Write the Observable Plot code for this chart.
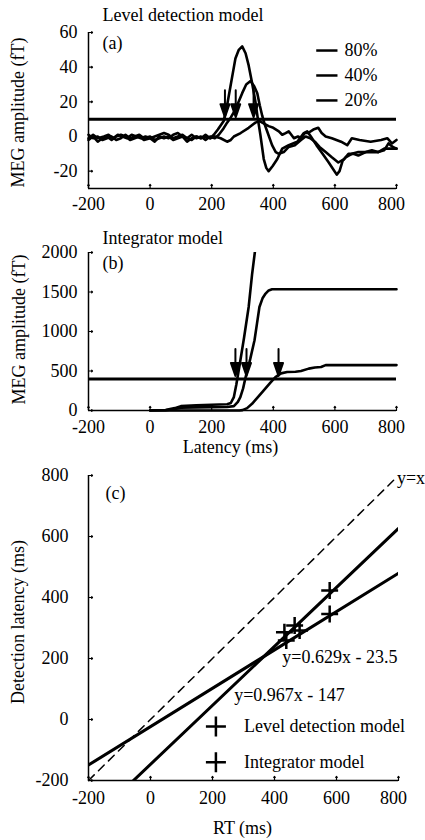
<!DOCTYPE html>
<html>
<head>
<meta charset="utf-8">
<script src="https://cdn.jsdelivr.net/npm/d3@7"></script>
<script src="https://cdn.jsdelivr.net/npm/@observablehq/plot@0.6"></script>
<style>
  html, body { margin: 0; padding: 0; background: #fff; }
  #wrap { width: 425px; height: 840px; overflow: hidden; background: #fff; }
  #wrap svg { display: block; font-family: "Liberation Serif", "Times New Roman", serif !important; }
  #wrap svg text { font-family: "Liberation Serif", "Times New Roman", serif !important; }
</style>
</head>
<body>
<div id="wrap"></div>
<script>
// ---------- data ----------
const xTicks = [-200, 0, 200, 400, 600, 800];
const yTicksA = [-20, 0, 20, 40, 60];
const yTicksB = [0, 500, 1000, 1500, 2000];
const yTicksC = [-200, 0, 200, 400, 600, 800];
const seriesLabels = ["80%", "40%", "20%"];
const thresholdA = 10;
const thresholdB = 400;
const arrowsA = [243, 278, 336];
const arrowsB = [277, 313, 417];

// (a) level detection model waveforms [latency ms, amplitude fT]
const a80 = [[-200,-1],[-185,1],[-170,-1],[-150,0],[-135,1],[-120,-1],[-105,1],[-90,0],[-75,-1],[-60,1],[-45,0],[-30,-1],[-15,0],[0,-1],[15,0],[30,1],[45,2],[60,1],[75,-1],[90,0],[105,1],[120,-1],[135,-2],[150,0],[165,-1],[180,1],[195,-1],[207,1],[220,4],[239,9],[250,18],[261,29],[270,38],[277,45],[288,50],[299,52],[310,48],[320,41],[331,31],[342,20],[350,10],[358,1],[369,-13],[377,-18],[385,-20],[398,-17],[413,-13],[429,-7],[450,-5],[478,-3],[499,2],[510,3],[522,0],[540,-5],[560,-10],[580,-15],[595,-19],[606,-22],[615,-20],[625,-14],[635,-12],[655,-10],[676,-9],[700,-9],[720,-8],[740,-9],[760,-8],[774,-4],[788,-6],[800,-7]];
const a40 = [[-200,1],[-185,-1],[-170,0],[-155,-2],[-140,-1],[-125,0],[-110,-2],[-95,-1],[-80,1],[-65,-1],[-50,0],[-35,1],[-20,-1],[0,0],[15,-2],[30,-1],[45,0],[60,-1],[75,1],[90,2],[105,0],[120,-1],[135,1],[150,-1],[165,0],[180,-2],[195,0],[210,-1],[223,1],[236,4],[250,8],[262,11],[272,14],[285,19],[299,25],[312,30],[326,32],[338,29],[348,25],[356,18],[364,12],[372,7],[380,3],[396,-5],[408,-9],[418,-10],[434,-9],[450,-6],[470,-5],[490,-2],[505,0],[520,-1],[535,-3],[550,-6],[570,-9],[590,-12],[611,-15],[630,-13],[644,-10],[660,-10],[676,-11],[700,-9],[720,-9],[741,-9],[760,-7],[780,-7],[800,-7]];
const a20 = [[-200,-2],[-185,0],[-170,-3],[-155,-1],[-140,0],[-125,-2],[-110,0],[-95,1],[-80,0],[-65,-2],[-50,-1],[-35,0],[-20,-2],[0,-1],[15,-3],[30,0],[45,-1],[60,0],[75,-2],[90,-1],[105,0],[120,-3],[135,-1],[150,0],[165,-1],[180,0],[195,-1],[210,0],[229,-1],[250,-3],[262,-2],[272,0],[294,2],[320,5],[342,8],[355,9],[364,8],[385,6],[400,5],[418,3],[429,1],[440,2],[450,3],[467,-1],[480,0],[491,-1],[502,2],[513,2],[530,4],[546,5],[557,2],[570,0],[590,-1],[620,-3],[640,-5],[655,-1],[680,-2],[716,-3],[750,-2],[770,-1],[785,-4],[800,-2]];

// (b) integrator model waveforms
const b80 = [[0,0],[50,5],[80,30],[100,55],[150,65],[200,72],[250,80],[262,95],[272,170],[280,330],[290,560],[305,920],[320,1310],[331,1720],[340,2000],[350,2350]];
const b40 = [[0,0],[50,3],[80,20],[100,35],[150,40],[200,42],[250,45],[272,55],[285,110],[293,170],[302,280],[310,420],[325,650],[339,890],[347,1100],[355,1310],[365,1420],[375,1480],[385,1520],[396,1535],[800,1535]];
const b20 = [[0,0],[290,0],[300,5],[315,30],[331,85],[350,170],[369,254],[390,350],[407,423],[425,470],[445,487],[472,490],[490,500],[515,530],[535,545],[555,550],[570,575],[800,575]];

// (c) detection latency vs RT
const slopes = [0.629, 0.967];
const intercepts = [-23.5, -147];
const eqLabels = ["y=0.629x - 23.5", "y=0.967x - 147"];
const levelPts = [[438,259],[481,292],[578,346]];
const integPts = [[432,286],[465,308],[578,423]];
const legendC = ["Level detection model", "Integrator model"];
const identityLabel = "y=x";

// ---------- helpers ----------
const FONT = "'Liberation Serif', 'Times New Roman', serif";
const baseStyle = "font-family: 'Liberation Serif', 'Times New Roman', serif; font-size: 18px; color: black; background: white;";
const fmt = d => String(d);
const T = {fontSize: 18, fontFamily: FONT};
const arrowShape = {
  draw(ctx, l) {
    ctx.moveTo(0, 0); ctx.lineTo(0, -l + 10);
    ctx.moveTo(-4.5, -l + 13); ctx.lineTo(0, -l); ctx.lineTo(4.5, -l + 13); ctx.closePath();
  }
};
function frameMarks(yTicks, ymin, xPad, yPad) {
  const last = xTicks[xTicks.length - 1];
  return [
    Plot.ruleY([ymin], {strokeWidth: 1.5}),
    Plot.ruleX([-200], {strokeWidth: 1.5}),
    Plot.vector(xTicks, {x: d => d, y: ymin, length: 4, rotate: 0, anchor: "start", strokeWidth: 1.2}),
    Plot.vector(yTicks, {x: -200, y: d => d, length: 4, rotate: 90, anchor: "start", strokeWidth: 1.2}),
    Plot.axisX({ticks: xTicks.slice(0, -1), tickSize: 0, tickPadding: xPad, tickFormat: fmt, label: null, ...T}),
    Plot.axisX({ticks: [last], tickSize: 0, tickPadding: xPad, tickFormat: fmt, label: null, dx: -5, ...T}),
    Plot.axisY({ticks: yTicks, tickSize: 0, tickPadding: yPad, tickFormat: fmt, label: null, ...T})
  ];
}
const X = d => d[0], Y = d => d[1];
const yLabel = (text, dx, dy) => Plot.text([text], {frameAnchor: "left", rotate: -90, dx, dy, textAnchor: "middle", lineAnchor: "middle", ...T});
const cornerText = (text, dx, dy) => Plot.text([text], {frameAnchor: "top-left", dx, dy, textAnchor: "start", lineAnchor: "middle", ...T});

// ---------- (a) ----------
const plotA = Plot.plot({
  width: 425, height: 213,
  marginLeft: 88, marginRight: 29, marginTop: 32, marginBottom: 25,
  x: {domain: [-200, 800]},
  y: {domain: [-30, 60]},
  style: baseStyle,
  marks: [
    ...frameMarks(yTicksA, -30, 9, 11),
    Plot.ruleY([thresholdA], {strokeWidth: 3}),
    Plot.line(a20, {x: X, y: Y, strokeWidth: 2.6}),
    Plot.line(a40, {x: X, y: Y, strokeWidth: 2.6}),
    Plot.line(a80, {x: X, y: Y, strokeWidth: 2.6}),
    Plot.vector(arrowsA, {x: d => d, y: thresholdA, dy: -2, length: 27, rotate: 180, anchor: "end", shape: arrowShape, fill: "black", stroke: "black", strokeWidth: 2}),
    Plot.ruleY(seriesLabels, {y: (d, i) => 49.6 - i * 14.4, x1: 541, x2: 610, strokeWidth: 2.5}),
    Plot.text(seriesLabels, {x: 631, y: (d, i) => 49.6 - i * 14.4, textAnchor: "start", ...T}),
    cornerText("Level detection model", 14, -17),
    cornerText("(a)", 14, 11),
    yLabel("MEG amplitude (fT)", -70, 2)
  ]
});

// ---------- (b) ----------
const plotB = Plot.plot({
  width: 425, height: 244,
  marginLeft: 88, marginRight: 29, marginTop: 39, marginBottom: 47,
  x: {domain: [-200, 800]},
  y: {domain: [0, 2000]},
  style: baseStyle,
  marks: [
    ...frameMarks(yTicksB, 0, 10, 11),
    Plot.ruleY([thresholdB], {strokeWidth: 3}),
    Plot.line(b20, {x: X, y: Y, strokeWidth: 2.6}),
    Plot.line(b40, {x: X, y: Y, strokeWidth: 2.6}),
    Plot.line(b80, {x: X, y: Y, strokeWidth: 2.6, clip: true}),
    Plot.vector(arrowsB, {x: d => d, y: thresholdB, dy: -3, length: 27, rotate: 180, anchor: "end", shape: arrowShape, fill: "black", stroke: "black", strokeWidth: 2}),
    cornerText("Integrator model", 14, -14),
    cornerText("(b)", 14, 11),
    yLabel("MEG amplitude (fT)", -69, -2),
    Plot.text(["Latency (ms)"], {frameAnchor: "bottom", dx: -12, dy: 37, textAnchor: "middle", lineAnchor: "middle", ...T})
  ]
});

// ---------- (c) ----------
const fitLines = slopes.map((m, i) => [-200, 800].map(x => ({x, y: m * x + intercepts[i]})));
const plotC = Plot.plot({
  width: 425, height: 383,
  marginLeft: 88, marginRight: 27, marginTop: 18, marginBottom: 60,
  x: {domain: [-200, 800]},
  y: {domain: [-200, 800]},
  style: baseStyle,
  marks: [
    ...frameMarks(yTicksC, -200, 11, 20),
    Plot.line([[-200, -200], [785, 785]], {x: X, y: Y, strokeWidth: 1.5, strokeDasharray: "8,6"}),
    ...fitLines.map(pts => Plot.line(pts, {x: "x", y: "y", strokeWidth: 3, clip: true})),
    Plot.dot(levelPts, {x: X, y: Y, symbol: "plus", r: 5.5, stroke: "black", strokeWidth: 2.5}),
    Plot.dot(integPts, {x: X, y: Y, symbol: "plus", r: 5.5, stroke: "black", strokeWidth: 2.5}),
    Plot.text([eqLabels[0]], {x: 425, y: 204, textAnchor: "start", ...T}),
    Plot.text([eqLabels[1]], {x: 270, y: 79, textAnchor: "start", ...T}),
    Plot.text([identityLabel], {x: 795, y: 790, textAnchor: "start", ...T}),
    Plot.dot(legendC, {x: 211, y: (d, i) => -23 - i * 117, symbol: "plus", r: 6.5, stroke: "black", strokeWidth: 2.5}),
    Plot.text(legendC, {x: 302, y: (d, i) => -23 - i * 117, textAnchor: "start", ...T}),
    cornerText("(c)", 17, 18),
    yLabel("Detection latency (ms)", -70, -6),
    Plot.text(["RT (ms)"], {frameAnchor: "bottom", dx: -1, dy: 48, textAnchor: "middle", lineAnchor: "middle", ...T})
  ]
});

const wrap = document.getElementById("wrap");
wrap.append(plotA, plotB, plotC);
</script>
</body>
</html>
